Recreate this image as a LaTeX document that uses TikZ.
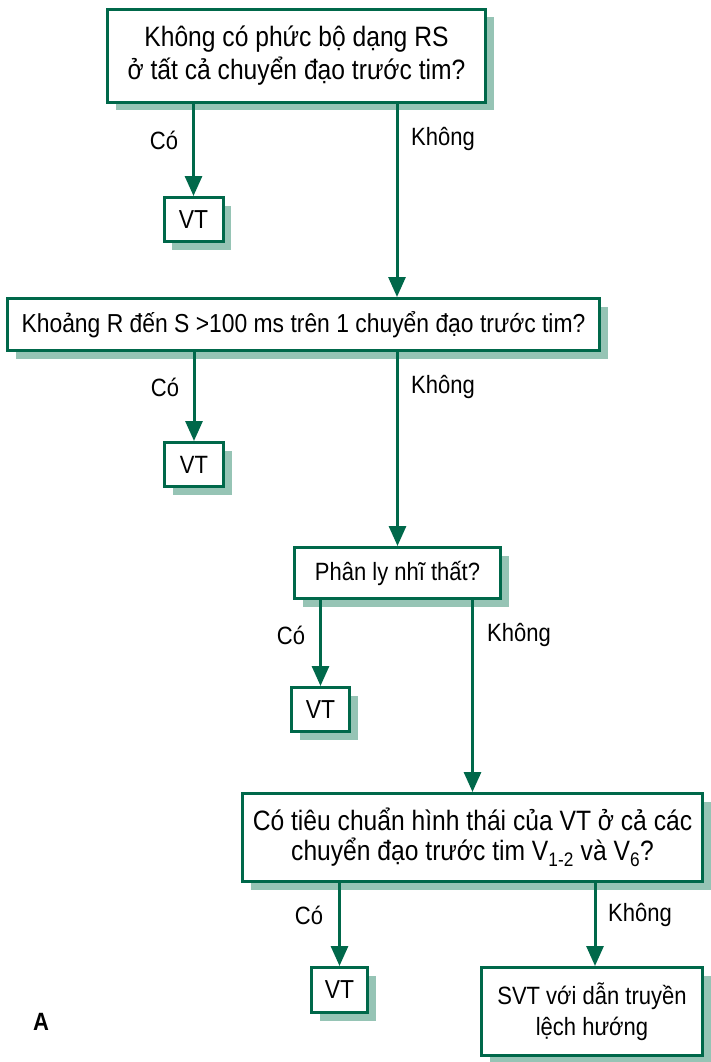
\documentclass[tikz,border=0pt]{standalone}
\usepackage{fontspec}
\setmainfont{Liberation Sans}[FakeStretch=0.88]
\usetikzlibrary{shadows,arrows.meta}
\definecolor{grn}{RGB}{0,104,74}
\definecolor{shd}{RGB}{150,196,181}
\tikzset{
  box/.style={draw=grn, line width=3pt, fill=white, inner sep=0pt, align=center,
    general shadow={fill=shd, shadow xshift=8pt, shadow yshift=-8pt}},
  arr/.style={draw=grn, line width=3pt, -{Triangle[length=20pt,width=17pt]}},
  lbl/.style={font=\fontsize{25}{30}\selectfont, inner sep=0pt},
}
\begin{document}
\begin{tikzpicture}[x=1pt,y=-1pt]
\useasboundingbox (0,0) rectangle (711,1062);
\node[box, minimum width=378pt, minimum height=93pt, font=\fontsize{28}{33}\selectfont] (b1) at (296.5,56)
  {Không có phức bộ dạng RS\\ở tất cả chuyển đạo trước tim?};
\node[box, minimum width=59pt, minimum height=44pt, font=\fontsize{26}{30}\selectfont] (v1) at (193.5,219.5) {VT};
\node[box, minimum width=592pt, minimum height=52pt, font=\fontsize{26}{30}\selectfont] (b2) at (303.5,324.5)
  {Khoảng R đến S >100 ms trên 1 chuyển đạo trước tim?};
\node[box, minimum width=59pt, minimum height=44pt, font=\fontsize{25}{30}\selectfont] (v2) at (194,464.5) {VT};
\node[box, minimum width=206pt, minimum height=51pt, font=\fontsize{25}{30}\selectfont] (b3) at (397.5,573)
  {Phân ly nhĩ thất?};
\node[box, minimum width=58pt, minimum height=44pt, font=\fontsize{26}{30}\selectfont] (v3) at (320.5,709.5) {VT};
\node[box, minimum width=460pt, minimum height=88pt, font=\fontsize{28}{30}\selectfont] (b4) at (472.5,837.5)
  {Có tiêu chuẩn hình thái của VT ở cả các\\chuyển đạo trước tim V\textsubscript{1-2} và V\textsubscript{6}?};
\node[box, minimum width=56pt, minimum height=45pt, font=\fontsize{26}{30}\selectfont] (v4) at (339.5,990) {VT};
\node[box, minimum width=221pt, minimum height=88pt, font=\fontsize{25}{31}\selectfont] (s) at (592,1011.5)
  {SVT với dẫn truyền\\lệch hướng};

\node[lbl] (c1) at (164,140) {Có};
\node[lbl] (k1) at (443,139) {Không};
\node[lbl] (c2) at (165,387) {Có};
\node[lbl] (k2) at (443,387) {Không};
\node[lbl] (c3) at (291,635) {Có};
\node[lbl] (k3) at (519,635) {Không};
\node[lbl] (c4) at (309,915) {Có};
\node[lbl] (k4) at (640,915) {Không};
\node[lbl, font=\fontsize{25}{30}\selectfont\bfseries] (A) at (41,1022) {A};

\draw[arr] (b1.south -| v1.north) -- (v1.north);
\draw[arr] (b1.south -| 397,0) -- (b2.north -| 397,0);
\draw[arr] (b2.south -| v2.north) -- (v2.north);
\draw[arr] (b2.south -| b3.north) -- (b3.north);
\draw[arr] (b3.south -| v3.north) -- (v3.north);
\draw[arr] (b3.south -| b4.north) -- (b4.north);
\draw[arr] (b4.south -| v4.north) -- (v4.north);
\draw[arr] (b4.south -| 595,0) -- (s.north -| 595,0);
\end{tikzpicture}
\end{document}
